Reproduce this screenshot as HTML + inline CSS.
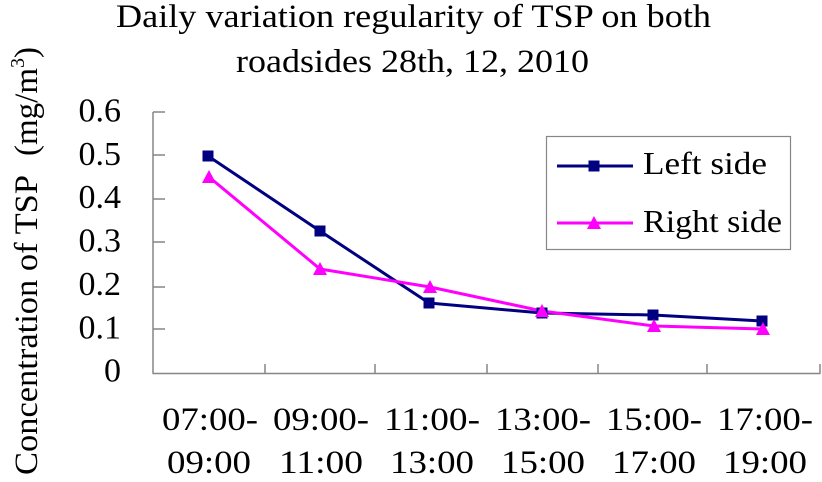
<!DOCTYPE html>
<html>
<head>
<meta charset="utf-8">
<style>
  html, body { margin: 0; padding: 0; background: #ffffff; }
  body { width: 822px; height: 482px; overflow: hidden; }
  svg { display: block; }
  text { font-family: "Liberation Serif", "Noto Serif CJK SC", serif; fill: #000; }
</style>
</head>
<body>
<svg width="822" height="482" viewBox="0 0 822 482" xmlns="http://www.w3.org/2000/svg">
  <rect x="0" y="0" width="822" height="482" fill="#ffffff"/>

  <!-- Title -->
  <text x="413.5" y="27" font-size="33" text-anchor="middle" textLength="595" lengthAdjust="spacingAndGlyphs">Daily variation regularity of TSP on both</text>
  <text x="412.5" y="72" font-size="33" text-anchor="middle" textLength="353" lengthAdjust="spacingAndGlyphs">roadsides 28th, 12, 2010</text>

  <!-- Y axis title -->
  <text transform="translate(37,475) rotate(-90)" font-size="33" textLength="300" lengthAdjust="spacingAndGlyphs">Concentration of TSP</text>
  <text transform="translate(37,156) rotate(-90)" font-size="33">(mg/m<tspan font-size="20" dy="-13">3</tspan><tspan dy="13">)</tspan></text>

  <!-- Y tick labels -->
  <g font-size="34" text-anchor="end">
    <text x="121" y="121.5">0.6</text>
    <text x="121" y="165">0.5</text>
    <text x="121" y="208">0.4</text>
    <text x="121" y="251.5">0.3</text>
    <text x="121" y="295">0.2</text>
    <text x="121" y="338.5">0.1</text>
    <text x="121" y="381.5">0</text>
  </g>

  <!-- Axes -->
  <g stroke="#868686" stroke-width="1.5" fill="none">
    <line x1="153" y1="112" x2="153" y2="373.5"/>
    <line x1="152.5" y1="373.5" x2="820.5" y2="373.5"/>
    <!-- y ticks (inside) -->
    <line x1="153" y1="112" x2="165" y2="112"/>
    <line x1="153" y1="155" x2="165" y2="155"/>
    <line x1="153" y1="199" x2="165" y2="199"/>
    <line x1="153" y1="242" x2="165" y2="242"/>
    <line x1="153" y1="287" x2="165" y2="287"/>
    <line x1="153" y1="329" x2="165" y2="329"/>
    <!-- x ticks (inside) -->
    <line x1="265" y1="373.5" x2="265" y2="364"/>
    <line x1="375" y1="373.5" x2="375" y2="364"/>
    <line x1="487" y1="373.5" x2="487" y2="364"/>
    <line x1="598" y1="373.5" x2="598" y2="364"/>
    <line x1="707" y1="373.5" x2="707" y2="364"/>
    <line x1="820" y1="373.5" x2="820" y2="364"/>
  </g>

  <!-- X labels -->
  <g font-size="32.5" text-anchor="middle">
    <text x="210" y="430" textLength="96" lengthAdjust="spacingAndGlyphs">07:00-</text>
    <text x="321" y="430" textLength="96" lengthAdjust="spacingAndGlyphs">09:00-</text>
    <text x="432" y="430" textLength="96" lengthAdjust="spacingAndGlyphs">11:00-</text>
    <text x="543" y="430" textLength="96" lengthAdjust="spacingAndGlyphs">13:00-</text>
    <text x="654" y="430" textLength="96" lengthAdjust="spacingAndGlyphs">15:00-</text>
    <text x="765" y="430" textLength="96" lengthAdjust="spacingAndGlyphs">17:00-</text>

    <text x="209" y="473" textLength="84" lengthAdjust="spacingAndGlyphs">09:00</text>
    <text x="321" y="473" textLength="84" lengthAdjust="spacingAndGlyphs">11:00</text>
    <text x="432" y="473" textLength="84" lengthAdjust="spacingAndGlyphs">13:00</text>
    <text x="543" y="473" textLength="84" lengthAdjust="spacingAndGlyphs">15:00</text>
    <text x="654" y="473" textLength="84" lengthAdjust="spacingAndGlyphs">17:00</text>
    <text x="765" y="473" textLength="84" lengthAdjust="spacingAndGlyphs">19:00</text>
  </g>

  <!-- Series: Left side -->
  <polyline fill="none" stroke="#000080" stroke-width="3" stroke-linejoin="round"
    points="208,156 320,231 429,303 542,313 653,315 762,321"/>
  <!-- Series: Right side -->
  <polyline fill="none" stroke="#FF00FF" stroke-width="3" stroke-linejoin="round"
    points="209,177 320,269 430,287 542,311 654,326 763,329"/>

  <!-- Left markers (squares) -->
  <g fill="#000080">
    <rect x="202.5" y="150.5" width="11" height="11"/>
    <rect x="314.5" y="225.5" width="11" height="11"/>
    <rect x="423.5" y="297.5" width="11" height="11"/>
    <rect x="536.5" y="307.5" width="11" height="11"/>
    <rect x="647.5" y="309.5" width="11" height="11"/>
    <rect x="756.5" y="315.5" width="11" height="11"/>
  </g>
  <!-- Right markers (triangles) -->
  <g fill="#FF00FF">
    <polygon points="209,170 216,183 202,183"/>
    <polygon points="320,262 327,275 313,275"/>
    <polygon points="430,280 437,293 423,293"/>
    <polygon points="542,304 549,317 535,317"/>
    <polygon points="654,319 661,332 647,332"/>
    <polygon points="763,322 770,335 756,335"/>
  </g>

  <!-- Legend -->
  <rect x="546.5" y="136.5" width="244" height="113" fill="#ffffff" stroke="#868686" stroke-width="1.2"/>
  <line x1="557" y1="166" x2="633" y2="166" stroke="#000080" stroke-width="3"/>
  <rect x="588.5" y="160.5" width="11" height="11" fill="#000080"/>
  <text x="643" y="174" font-size="32" textLength="124" lengthAdjust="spacingAndGlyphs">Left side</text>

  <line x1="557" y1="223" x2="633" y2="223" stroke="#FF00FF" stroke-width="3"/>
  <polygon points="594,216 601,229 587,229" fill="#FF00FF"/>
  <text x="643" y="232" font-size="32" textLength="139" lengthAdjust="spacingAndGlyphs">Right side</text>
</svg>
</body>
</html>
